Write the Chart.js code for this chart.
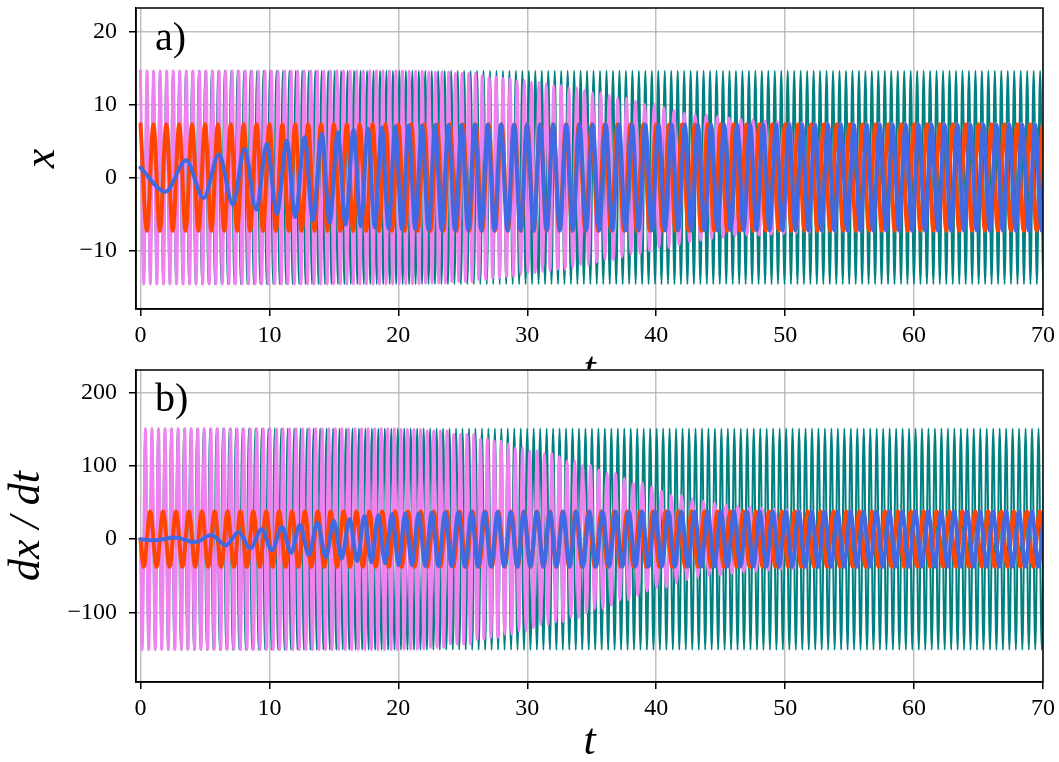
<!DOCTYPE html>
<html><head><meta charset="utf-8">
<script src="https://cdn.jsdelivr.net/npm/chart.js@4.4.1/dist/chart.umd.min.js"></script>
<style>
html,body{margin:0;padding:0;background:#fff;width:1059px;height:762px;overflow:hidden;}
#c1{position:absolute;left:0;top:0;}
#c2{position:absolute;left:0;top:350px;}
</style></head><body>
<canvas id="c1" width="1059" height="400"></canvas>
<canvas id="c2" width="1059" height="412"></canvas>
<script>
// ---------- tick labels / texts ----------
const xTicks = [0, 10, 20, 30, 40, 50, 60, 70];
const yTicksTop = [-10, 0, 10, 20];
const yTicksBottom = [-100, 0, 100, 200];
const panelLabels = ['a)', 'b)'];

// ---------- teal (read: constant envelope) ----------
const tealEnvT   = [0];
const tealPeriod = [0.502];
const tealAmpX   = [14.6];
const tealAmpV   = [151];

// ---------- violet (read: envelope decays after t~20) ----------
const violetEnvT   = [0, 20, 22, 24, 26, 27, 28, 29, 30, 31, 32, 33, 34, 35, 36, 37, 38, 39, 40, 41, 42, 43, 44, 45, 46, 47, 48, 49, 50, 51, 52, 56, 60, 70];
const violetAmpX   = [14.6, 14.55, 14.45, 14.25, 13.95, 13.75, 13.55, 13.3, 13.05, 12.85, 12.6, 12.3, 11.95, 11.6, 11.25, 10.85, 10.45, 10.0, 9.6, 9.2, 8.85, 8.6, 8.35, 8.15, 8.0, 7.9, 7.75, 7.65, 7.58, 7.5, 7.45, 7.4, 7.38, 7.35];
const violetAmpV   = [151, 150, 148, 143, 137, 134, 130, 125, 121, 117, 113, 107, 101, 95, 90, 83, 77, 71, 65.5, 60, 55.5, 52, 49.5, 47, 45, 44, 42.5, 41.5, 40.5, 39.5, 39, 38.5, 38, 37.8];
const violetPeriod = [0.508, 0.51, 0.513, 0.52, 0.532, 0.54, 0.548, 0.558, 0.568, 0.577, 0.588, 0.603, 0.62, 0.64, 0.66, 0.685, 0.71, 0.74, 0.77, 0.805, 0.838, 0.862, 0.888, 0.91, 0.927, 0.94, 0.957, 0.97, 0.978, 0.99, 0.995, 1.0, 1.004, 1.008];

// ---------- orange (read: constant envelope) ----------
const orangeEnvT   = [0];
const orangePeriod = [1.0];
const orangeAmpX   = [7.3];
const orangeAmpV   = [37.8];

// ---------- royal blue (read: growing from rest) ----------
const blueExtT = [0, 1.94, 3.54, 4.89, 6.08, 7.17, 8.07, 8.98, 9.8, 10.58, 11.35, 12.0, 12.73, 13.37, 14.07, 14.67, 15.31, 15.9, 16.53];
const blueExtX = [1.35, -1.95, 2.35, -2.8, 3.15, -3.7, 3.95, -4.4, 4.6, -4.95, 5.0, -5.4, 5.5, -5.85, 5.95, -6.2, 6.2, -6.45, 6.5];
const blueExtV = [-1.5, 2.2, -4.3, 5.8, -8.3, 9.5, -12.5, 13.5, -15.2, 16.5, -18.5, 19.5, -21.5, 22.5, -24.5, 25, -26.5, 27.5];
const blueEnvT   = [16.53, 17, 18, 19, 20, 22, 25, 32, 45];
const blueAmpX   = [6.6, 6.7, 6.85, 7.0, 7.1, 7.2, 7.25, 7.25, 7.25];
const blueAmpV   = [30, 31.5, 33, 34.5, 35.5, 36.5, 37.2, 37.3, 37.4];
const bluePeriod = [1.12, 1.09, 1.06, 1.04, 1.03, 1.025, 1.015, 1.02, 1.005];

const T_END = 70.6;

function lookup(ts, arr, t) {
  let i = 0;
  while (i + 1 < ts.length && ts[i + 1] <= t) i++;
  return arr[i];
}

// builds the extremum list of x (and of dx/dt between them) from the readings
function buildOsc(s) {
  const ts = (s.preT || []).slice(), xs = (s.preX || []).slice(), vs = (s.preV || []).slice();
  let t, sign;
  if (ts.length) { t = ts[ts.length - 1]; sign = Math.sign(xs[xs.length - 1]); }
  else { t = s.t0; sign = s.sign0; ts.push(t); xs.push(sign * lookup(s.envT, s.ampX, t)); }
  while (t < T_END) {
    const half = lookup(s.envT, s.period, t) / 2;
    vs.push(-sign * lookup(s.envT, s.ampV, t + half / 2));
    t += half; sign = -sign;
    ts.push(t); xs.push(sign * lookup(s.envT, s.ampX, t));
  }
  const xPts = ts.map((tt, i) => ({x: tt, y: xs[i]}));
  const vPts = [{x: ts[0], y: 0}];
  for (let i = 0; i < vs.length; i++) vPts.push({x: (ts[i] + ts[i + 1]) / 2, y: vs[i]});
  return {xPts, vPts};
}

const teal = buildOsc({t0: 0, sign0: 1, envT: tealEnvT, period: tealPeriod, ampX: tealAmpX, ampV: tealAmpV});
const violet = buildOsc({t0: 0, sign0: 1, envT: violetEnvT, period: violetPeriod, ampX: violetAmpX, ampV: violetAmpV});
const orange = buildOsc({t0: 0, sign0: 1, envT: orangeEnvT, period: orangePeriod, ampX: orangeAmpX, ampV: orangeAmpV});
const blue = buildOsc({preT: blueExtT, preX: blueExtX, preV: blueExtV, envT: blueEnvT, period: bluePeriod, ampX: blueAmpX, ampV: blueAmpV});

const COLORS = {teal: '#008080', violet: '#EE82EE', orange: '#FF4500', blue: '#4169E1'};
const WIDTHS = {teal: 2.0, violet: 2.8, orange: 4, blue: 4};

function ds(pts, key, order) {
  return {data: pts, borderColor: COLORS[key], borderWidth: WIDTHS[key], order: order,
          pointRadius: 0, fill: false, clip: 0, cubicInterpolationMode: 'monotone',
          borderJoinStyle: 'round', borderCapStyle: 'round'};
}

const fmt = v => (v < 0 ? '\u2212' + Math.abs(v) : String(v));
const SERIF = '"Liberation Serif", "Times New Roman", serif';

function makePanel(canvasId, cfg) {
  const framePlugin = {
    id: 'frame' + canvasId,
    beforeDraw(chart) {
      if (cfg.whiteBelow) {
        const c = chart.ctx;
        c.save(); c.fillStyle = '#fff';
        c.fillRect(0, chart.chartArea.top - 1, chart.width, chart.height);
        c.restore();
      }
    },
    afterDraw(chart) {
      const c = chart.ctx, a = chart.chartArea;
      c.save();
      c.strokeStyle = '#000'; c.lineWidth = 1.5;
      c.strokeRect(a.left, a.top, a.right - a.left, a.bottom - a.top);
      c.fillStyle = '#000';
      c.font = '40px ' + SERIF;
      c.textBaseline = 'alphabetic';
      c.fillText(cfg.label, 155, cfg.labelY);
      c.restore();
    }
  };
  return new Chart(document.getElementById(canvasId), {
    type: 'line',
    data: {datasets: [
      ds(cfg.blue, 'blue', 0),
      ds(cfg.orange, 'orange', 1),
      ds(cfg.violet, 'violet', 2),
      ds(cfg.teal, 'teal', 3)
    ]},
    options: {
      responsive: false, animation: false, devicePixelRatio: 1,
      parsing: false, normalized: true,
      layout: {padding: {left: 0, right: 16, top: cfg.padTop, bottom: 0}},
      plugins: {legend: {display: false}, tooltip: {enabled: false}},
      scales: {
        x: {
          type: 'linear', min: -0.35, max: 70, z: 1,
          afterBuildTicks: s => { s.ticks = xTicks.map(v => ({value: v})); },
          afterFit: s => { s.height = cfg.xHeight; s.paddingLeft = 0; s.paddingRight = 0; },
          ticks: {color: '#000', font: {family: SERIF, size: 24}, padding: 5, maxRotation: 0, autoSkip: false, callback: fmt},
          grid: {color: 'rgba(176,176,176,0.8)', lineWidth: 1.5, tickColor: '#000', tickLength: 7, tickWidth: 1.5},
          border: {color: '#000', width: 1.5},
          title: {display: true, text: 't', color: '#000',
                  font: {family: SERIF, style: 'italic', size: 44, lineHeight: 0.9},
                  padding: {top: 0, bottom: cfg.tPad}}
        },
        y: {
          type: 'linear', min: cfg.yMin, max: cfg.yMax, z: 1,
          afterBuildTicks: s => { s.ticks = cfg.yTicks.map(v => ({value: v})); },
          afterFit: s => { s.width = 136; s.paddingTop = 0; s.paddingBottom = 0; },
          ticks: {color: '#000', font: {family: SERIF, size: 24}, padding: 12, autoSkip: false, callback: fmt},
          grid: {color: 'rgba(176,176,176,0.8)', lineWidth: 1.5, tickColor: '#000', tickLength: 7, tickWidth: 1.5},
          border: {color: '#000', width: 1.5},
          title: {display: true, text: cfg.yTitle, color: '#000',
                  font: {family: SERIF, style: 'italic', size: 44, lineHeight: 1},
                  padding: {top: cfg.yTitlePad, bottom: 0}}
        }
      }
    },
    plugins: [framePlugin]
  });
}

makePanel('c1', {
  teal: teal.xPts, violet: violet.xPts, orange: orange.xPts, blue: blue.xPts,
  yMin: -18, yMax: 23.2, yTicks: yTicksTop, yTitle: 'x', yTitlePad: 20,
  padTop: 8, xHeight: 91, tPad: 9.7, label: panelLabels[0], labelY: 50, whiteBelow: false
});
makePanel('c2', {
  teal: teal.vPts, violet: violet.vPts, orange: orange.vPts, blue: blue.vPts,
  yMin: -195, yMax: 231, yTicks: yTicksBottom, yTitle: 'dx\u2005/\u2005dt', yTitlePad: 5,
  padTop: 20, xHeight: 80, tPad: 0, label: panelLabels[1], labelY: 61, whiteBelow: true
});
</script>
</body></html>
